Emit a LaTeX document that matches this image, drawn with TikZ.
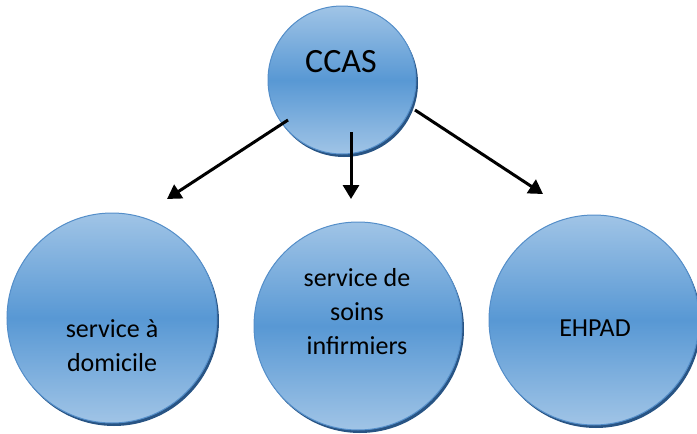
\documentclass[tikz,border=0pt]{standalone}
\usepackage{fontspec}
\setmainfont{Carlito}
\usetikzlibrary{arrows.meta,shadows}
\definecolor{blueedge}{RGB}{84,142,201}
\definecolor{bluelight}{RGB}{160,196,230}
\definecolor{bluemid}{RGB}{88,152,212}
\definecolor{blueshadow}{RGB}{40,84,132}
\tikzset{
  bubble/.style={circle, draw=blueedge, line width=1pt, inner sep=0pt,
    top color=bluelight, bottom color=bluelight, middle color=bluemid,
    drop shadow={shadow xshift=2pt, shadow yshift=-3pt, fill=blueshadow, opacity=1}},
  txt/.style={align=center, font=\fontsize{26}{34}\selectfont},
  link/.style={line width=3pt, -{Triangle[length=14pt,width=16pt]}}
}
\begin{document}
\begin{tikzpicture}[x=1pt, y=-1pt]
    \useasboundingbox (0, 0) rectangle (697, 434);
    \node[bubble, minimum size=148pt] (ccas) at (342, 80) {};
    \node[bubble, minimum size=210pt] (dom) at (112, 318) {};
    \node[bubble, minimum size=208pt] (soins) at (358, 326) {};
    \node[bubble, minimum size=210pt] (ehpad) at (594, 320) {};
    \node[font=\fontsize{34}{40}\selectfont] (ccast) at (341, 62) {CCAS};
    \node[txt] (domt) at (112, 346) {service à\\domicile};
    \node[txt] (soinst) at (357, 312) {service de\\soins\\infirmiers};
    \node[txt] (ehpadt) at (595, 328) {EHPAD};
    \coordinate (s1) at (288, 120);
    \coordinate (s2) at (351, 132);
    \coordinate (s3) at (415, 110);
    \coordinate (e1) at (167, 199);
    \coordinate (e2) at (351, 199);
    \coordinate (e3) at (543, 194);
    \draw [link] (s1) -- (e1);
    \draw [link] (s2) -- (e2);
    \draw [link] (s3) -- (e3);
  \end{tikzpicture}
\end{document}
